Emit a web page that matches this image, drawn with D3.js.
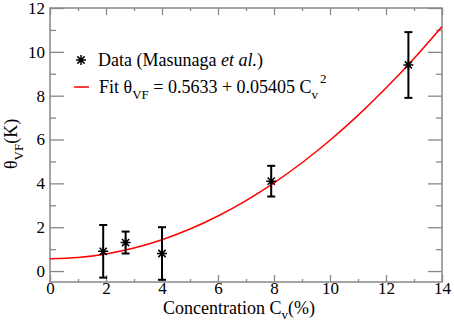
<!DOCTYPE html>
<html>
<head>
<meta charset="utf-8">
<script src="https://cdn.jsdelivr.net/npm/d3@7"></script>
<style>
  body { margin: 0; background: #fff; }
  svg { display: block; }
  svg text { fill: #000; }
</style>
</head>
<body>
<div id="chart"></div>
<script>
// Mesures (Masunaga et al.)
const dataC = [1.9, 2.7, 4.0, 7.9, 12.8];
const dataTheta = [0.9, 1.3, 0.8, 4.1, 9.4];
const dataLow = [-0.3, 0.8, -0.4, 3.4, 7.9];
const dataHigh = [2.1, 1.8, 2.0, 4.8, 10.9];

// Corba de l'ajust, llegida del gràfic
const fitC = [0, 1, 2, 3, 4, 5, 6, 7, 8, 9, 10, 11, 12, 13, 14];
const fitTheta = [0.563, 0.617, 0.780, 1.050, 1.428, 1.915, 2.509, 3.212, 4.023, 4.941, 5.968, 7.103, 8.347, 9.698, 11.157];

// Ticks
const xTicks = [0, 2, 4, 6, 8, 10, 12, 14];
const xMinor = [1, 3, 5, 7, 9, 11, 13];
const yTicks = [0, 2, 4, 6, 8, 10, 12];
const yMinor = [1, 3, 5, 7, 9, 11];

const W = 454, H = 327;
const margin = { top: 8, right: 12, bottom: 45, left: 50 };
const width = W - margin.left - margin.right;
const height = H - margin.top - margin.bottom;
const fontSize = 18;
const tickFont = 17;
const fontFam = "'Liberation Serif', 'DejaVu Serif', 'Liberation Sans', sans-serif";
const axisColor = "#888";

const x = d3.scaleLinear().domain([0, 14]).range([0, width]);
const y = d3.scaleLinear().domain([-0.5, 12]).range([height, 0]);

const svg = d3.select("#chart").append("svg")
    .attr("width", W)
    .attr("height", H)
    .attr("font-family", fontFam)
    .append("g")
    .attr("transform", `translate(${margin.left},${margin.top})`);

// Eixos: ticks cap a dins als quatre costats
function styleAxis(g, showLabels) {
    g.attr("font-family", fontFam).attr("font-size", tickFont);
    g.select(".domain").remove();
    g.selectAll(".tick line").attr("stroke", axisColor).attr("stroke-width", 1.3);
    if (!showLabels) g.selectAll(".tick text").remove();
}

svg.append("g").attr("transform", `translate(0,${height})`)
    .call(d3.axisBottom(x).tickValues(xTicks).tickSizeInner(-7).tickSizeOuter(0).tickPadding(0).tickFormat(d3.format("d")))
    .call(g => styleAxis(g, true));
svg.append("g").attr("transform", `translate(0,${height})`)
    .call(d3.axisBottom(x).tickValues(xMinor).tickSize(-3))
    .call(g => styleAxis(g, false));
svg.append("g")
    .call(d3.axisTop(x).tickValues(xTicks).tickSize(-7))
    .call(g => styleAxis(g, false));
svg.append("g")
    .call(d3.axisTop(x).tickValues(xMinor).tickSize(-3))
    .call(g => styleAxis(g, false));

svg.append("g")
    .call(d3.axisLeft(y).tickValues(yTicks).tickSizeInner(-14).tickSizeOuter(0).tickPadding(5).tickFormat(d3.format("d")))
    .call(g => styleAxis(g, true));
svg.append("g")
    .call(d3.axisLeft(y).tickValues(yMinor).tickSize(-6))
    .call(g => styleAxis(g, false));
svg.append("g").attr("transform", `translate(${width},0)`)
    .call(d3.axisRight(y).tickValues(yTicks).tickSize(-14))
    .call(g => styleAxis(g, false));
svg.append("g").attr("transform", `translate(${width},0)`)
    .call(d3.axisRight(y).tickValues(yMinor).tickSize(-6))
    .call(g => styleAxis(g, false));

// Marc
svg.append("rect")
    .attr("width", width)
    .attr("height", height)
    .attr("fill", "none")
    .attr("stroke", axisColor)
    .attr("stroke-width", 1.5);

// Corba de l'ajust
svg.append("clipPath").attr("id", "clip")
    .append("rect").attr("width", width).attr("height", height);

svg.append("path")
    .datum(fitC.map((c, i) => [c, fitTheta[i]]))
    .attr("clip-path", "url(#clip)")
    .attr("fill", "none")
    .attr("stroke", "#ff0000")
    .attr("stroke-width", 1.5)
    .attr("d", d3.line().x(d => x(d[0])).y(d => y(d[1])).curve(d3.curveMonotoneX));

// Barres d'error
const pts = dataC.map((c, i) => ({ c: c, t: dataTheta[i], lo: dataLow[i], hi: dataHigh[i] }));
const cap = 4;
const eb = svg.append("g").attr("stroke", "#000").attr("stroke-width", 2);
eb.selectAll(".v").data(pts).enter().append("line")
    .attr("x1", d => x(d.c)).attr("x2", d => x(d.c))
    .attr("y1", d => y(d.lo)).attr("y2", d => y(d.hi));
eb.selectAll(".top").data(pts).enter().append("line")
    .attr("x1", d => x(d.c) - cap).attr("x2", d => x(d.c) + cap)
    .attr("y1", d => y(d.hi)).attr("y2", d => y(d.hi));
eb.selectAll(".bot").data(pts).enter().append("line")
    .attr("x1", d => x(d.c) - cap).attr("x2", d => x(d.c) + cap)
    .attr("y1", d => y(d.lo)).attr("y2", d => y(d.lo));

// Estrella
function star(r) {
    const a = r * 0.72;
    return `M${-r},0L${r},0M0,${-r}L0,${r}M${-a},${-a}L${a},${a}M${-a},${a}L${a},${-a}`;
}
svg.append("g").selectAll("path").data(pts).enter().append("path")
    .attr("transform", d => `translate(${x(d.c)},${y(d.t)})`)
    .attr("d", star(5))
    .attr("stroke", "#000")
    .attr("stroke-width", 1.5)
    .attr("fill", "none");

// Llegenda
const lg = svg.append("g");
lg.append("path")
    .attr("transform", "translate(31,52)")
    .attr("d", star(5))
    .attr("stroke", "#000")
    .attr("stroke-width", 1.5);
const t1 = lg.append("text").attr("x", 48).attr("y", 58).attr("font-size", fontSize);
t1.append("tspan").text("Data (Masunaga ");
t1.append("tspan").attr("font-style", "italic").text("et al.");
t1.append("tspan").text(")");

lg.append("line")
    .attr("x1", 24).attr("x2", 39)
    .attr("y1", 79).attr("y2", 79)
    .attr("stroke", "#ff0000").attr("stroke-width", 1.5);
const t2 = lg.append("text").attr("x", 49).attr("y", 85).attr("font-size", fontSize);
t2.append("tspan").text("Fit \u03b8");
t2.append("tspan").attr("dy", 6).attr("font-size", 13).text("VF");
t2.append("tspan").attr("dy", -6).text(" = 0.5633 + 0.05405 C");
t2.append("tspan").attr("dy", 6).attr("font-size", 13).text("v");
t2.append("tspan").attr("dy", -16).attr("dx", 2).attr("font-size", 13).text("2");

// Títols dels eixos
const xl = svg.append("text").attr("x", 113).attr("y", height + 32).attr("font-size", fontSize);
xl.append("tspan").text("Concentration C");
xl.append("tspan").attr("dy", 5).attr("font-size", 13).text("v");
xl.append("tspan").attr("dy", -5).text("(%)");

const yl = svg.append("text")
    .attr("transform", `translate(${-33},${y(5.8)}) rotate(-90)`)
    .attr("text-anchor", "middle")
    .attr("font-size", fontSize);
yl.append("tspan").text("\u03b8");
yl.append("tspan").attr("dy", 6).attr("font-size", 13).text("VF");
yl.append("tspan").attr("dy", -6).text("(K)");
</script>
</body>
</html>
